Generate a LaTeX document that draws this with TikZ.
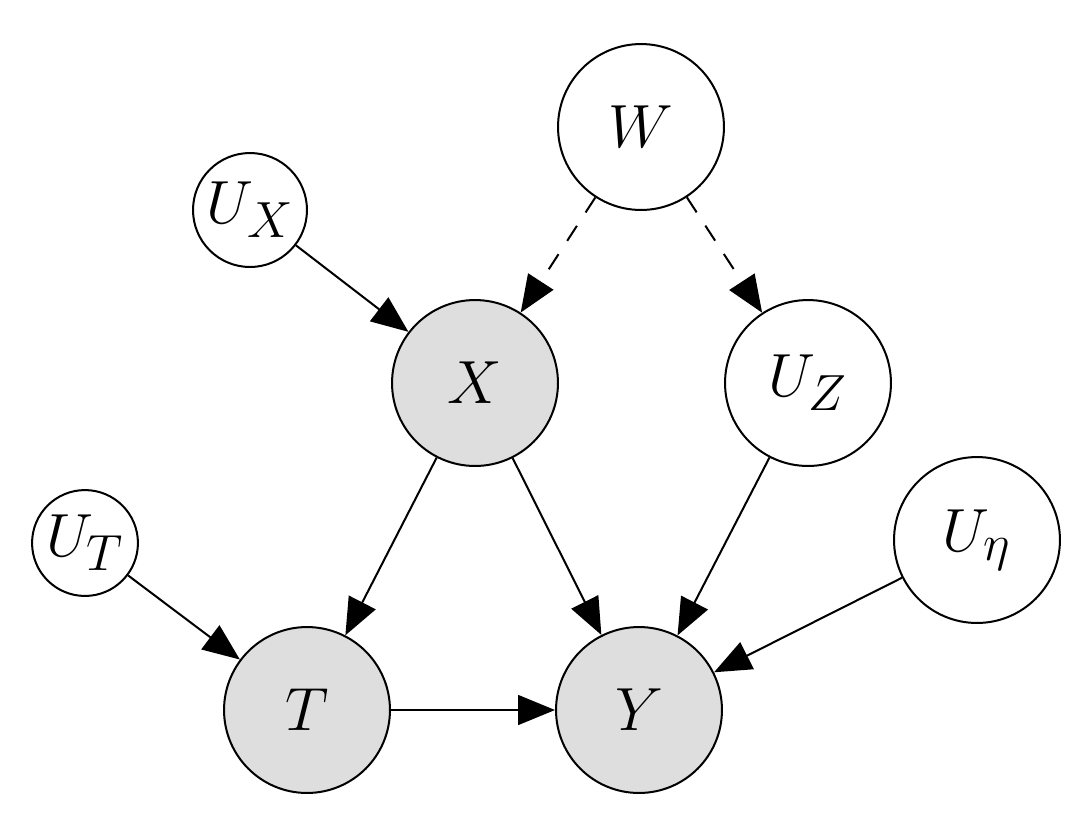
\documentclass[tikz,border=0pt]{standalone}
\usetikzlibrary{arrows.meta}
\definecolor{obsgray}{HTML}{DEDEDE}
\tikzset{
  var/.style={circle, draw=black, line width=0.82pt, inner sep=0pt, minimum size=67.7pt, font=\Huge},
  smallvar/.style={var, minimum size=#1},
  obs/.style={var, fill=obsgray},
  edge/.style={line width=0.82pt, -{Triangle[length=15.1pt,width=12.2pt]}},
  dedge/.style={edge, dash pattern=on 7.3pt off 6.5pt},
}
\begin{document}
\begin{tikzpicture}[x=0.408pt,y=-0.408pt]
\useasboundingbox (0,0) rectangle (1092,814);
\node[var] (W) at (641,127) {$W$};
\node[smallvar=46.5pt] (UX) at (250,210) {$U_X$};
\node[obs] (X) at (475,383) {$X$};
\node[var] (UZ) at (808,383) {$U_Z$};
\node[smallvar=43.2pt] (UT) at (85,543) {$U_T$};
\node[var] (Ueta) at (977,540) {$U_\eta$};
\node[obs] (T) at (307,710) {$T$};
\node[obs] (Y) at (639,710) {$Y$};
\draw[edge] (UX) -- (X);
\draw[dedge] (W) -- (X);
\draw[dedge] (W) -- (UZ);
\draw[edge] (X) -- (T);
\draw[edge] (X) -- (Y);
\draw[edge] (UZ) -- (Y);
\draw[edge] (UT) -- (T);
\draw[edge] (T) -- (Y);
\draw[edge] (Ueta) -- (Y);
\end{tikzpicture}
\end{document}
